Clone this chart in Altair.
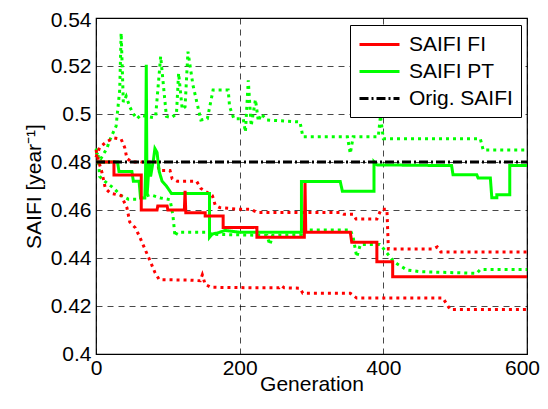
import altair as alt
import pandas as pd

# ---- data ----
fi_x = [0, 25, 25, 63, 63, 85, 86, 99, 100, 123, 124, 125, 152, 152, 177, 177, 224, 224, 290, 291, 292, 354, 356, 391, 391, 413, 413, 600]
fi_y = [0.480, 0.480, 0.4746, 0.4746, 0.460, 0.460, 0.4617, 0.4617, 0.460, 0.460, 0.468, 0.4589, 0.4589, 0.4575, 0.4575, 0.4527, 0.4527, 0.4486, 0.4486, 0.4712, 0.4507, 0.4507, 0.4466, 0.4466, 0.4384, 0.4384, 0.4322, 0.4322]

pt_x = [0, 30, 32, 50, 52, 60, 62, 68, 69, 70, 71, 72, 74, 76, 80, 82, 85, 88, 92, 98, 105, 158, 158, 162, 170, 180, 200, 286, 286, 340, 343, 387, 387, 391, 495, 497, 530, 532, 549, 551, 558, 558, 576, 576, 600]
pt_y = [0.480, 0.480, 0.476, 0.476, 0.472, 0.472, 0.465, 0.465, 0.476, 0.5205, 0.466, 0.470, 0.480, 0.474, 0.481, 0.4856, 0.484, 0.476, 0.472, 0.470, 0.4669, 0.4669, 0.4486, 0.450, 0.4505, 0.4515, 0.4507, 0.4507, 0.4719, 0.4719, 0.4678, 0.4678, 0.4801, 0.4788, 0.4785, 0.4747, 0.4747, 0.4733, 0.4733, 0.4651, 0.4651, 0.4664, 0.4664, 0.4785, 0.4785]

fi_hi_x = [0, 5, 15, 25, 35, 40, 43, 50, 85, 88, 103, 106, 113, 140, 146, 162, 166, 172, 200, 215, 225, 340, 345, 358, 362, 391, 397, 405, 407, 470, 475, 480, 600]
fi_hi_y = [0.482, 0.486, 0.4885, 0.490, 0.4895, 0.486, 0.4815, 0.480, 0.480, 0.4765, 0.4765, 0.473, 0.472, 0.472, 0.469, 0.466, 0.462, 0.461, 0.4603, 0.4603, 0.459, 0.459, 0.4582, 0.4582, 0.4562, 0.4562, 0.4603, 0.4603, 0.4438, 0.4438, 0.4446, 0.4425, 0.4425]

fi_lo_x = [0, 4, 8, 13, 20, 35, 43, 47, 55, 62, 67, 75, 82, 88, 130, 145, 148, 152, 160, 220, 255, 258, 262, 284, 288, 354, 363, 483, 493, 600]
fi_lo_y = [0.485, 0.480, 0.476, 0.469, 0.467, 0.466, 0.461, 0.455, 0.4525, 0.448, 0.4445, 0.439, 0.434, 0.431, 0.4308, 0.4305, 0.433, 0.429, 0.4278, 0.4276, 0.4276, 0.4285, 0.4276, 0.4274, 0.4253, 0.4253, 0.4233, 0.4233, 0.4185, 0.4185]

pt_hi_x = [0, 7, 15, 20, 28, 33, 35, 37, 38, 42, 47, 52, 57, 62, 70, 80, 83, 90, 98, 105, 112, 115, 120, 124, 128, 135, 146, 155, 163, 184, 186, 192, 205, 208, 212, 216, 222, 226, 230, 238, 284, 288, 350, 354, 358, 393, 396, 400, 535, 539, 600]
pt_hi_y = [0.484, 0.4815, 0.4856, 0.4897, 0.495, 0.510, 0.5337, 0.515, 0.505, 0.5074, 0.503, 0.500, 0.498, 0.4995, 0.499, 0.4985, 0.499, 0.524, 0.499, 0.4985, 0.500, 0.517, 0.502, 0.503, 0.526, 0.512, 0.4975, 0.498, 0.510, 0.510, 0.503, 0.498, 0.498, 0.4925, 0.514, 0.495, 0.506, 0.497, 0.500, 0.4975, 0.4967, 0.4905, 0.4905, 0.4835, 0.4905, 0.4905, 0.4993, 0.4897, 0.4897, 0.485, 0.485]

pt_lo_x = [0, 3, 5, 12, 25, 35, 45, 57, 75, 90, 103, 107, 110, 113, 158, 160, 238, 242, 246, 286, 288, 354, 358, 363, 368, 395, 400, 413, 419, 433, 451, 530, 535, 600]
pt_lo_y = [0.4856, 0.483, 0.474, 0.472, 0.469, 0.466, 0.4645, 0.4645, 0.4664, 0.465, 0.4643, 0.458, 0.449, 0.4507, 0.4507, 0.4499, 0.4494, 0.4455, 0.4494, 0.4497, 0.4517, 0.4517, 0.4486, 0.4404, 0.4456, 0.4456, 0.444, 0.439, 0.4376, 0.435, 0.4343, 0.4336, 0.4352, 0.4352]

orig_x = [0, 600]
orig_y = [0.48, 0.48]

series_names = ["SAIFI FI", "SAIFI PT", "Orig. SAIFI"]
series_colors = ["#ff0000", "#00ff00", "#000000"]
x_ticks = [0, 200, 400, 600]
y_ticks = [0.4, 0.42, 0.44, 0.46, 0.48, 0.5, 0.52, 0.54]


def frame(name, xs, ys, bound=""):
    return pd.DataFrame({"series": name, "bound": bound, "order": range(len(xs)), "gen": xs, "saifi": ys})


main_df = pd.concat([frame("SAIFI PT", pt_x, pt_y), frame("SAIFI FI", fi_x, fi_y), frame("Orig. SAIFI", orig_x, orig_y)])
red_dot_df = pd.concat([frame("SAIFI FI", fi_hi_x, fi_hi_y, "hi"), frame("SAIFI FI", fi_lo_x, fi_lo_y, "lo")])
green_dot_df = pd.concat([frame("SAIFI PT", pt_hi_x, pt_hi_y, "hi"), frame("SAIFI PT", pt_lo_x, pt_lo_y, "lo")])

FONT = "Liberation Sans"

x_enc = alt.X("gen:Q", scale=alt.Scale(domain=[0, 600], nice=False),
              axis=alt.Axis(values=x_ticks, title="Generation", format="d",
                            labelOffset={"condition": {"test": "datum.value == 600", "value": -5}, "value": 0},
                            titleY=36, titleBaseline="alphabetic", labelPadding=3))
y_enc = alt.Y("saifi:Q", scale=alt.Scale(domain=[0.4, 0.54], nice=False, zero=False),
              axis=alt.Axis(values=y_ticks, title="SAIFI [year⁻¹]", format="~g",
                            labelOffset={"condition": {"test": "datum.value > 0.535", "value": 2}, "value": 0}))

green_dots = alt.Chart(green_dot_df).mark_line(color="#00ff00", strokeWidth=3, strokeDash=[3, 4]).encode(
    x=x_enc, y=y_enc, detail="bound:N", order="order:Q")
red_dots = alt.Chart(red_dot_df).mark_line(color="#ff0000", strokeWidth=3, strokeDash=[3, 4]).encode(
    x=x_enc, y=y_enc, detail="bound:N", order="order:Q")

main = alt.Chart(main_df).mark_line(strokeWidth=3).encode(
    x=x_enc, y=y_enc,
    color=alt.Color("series:N", sort=series_names,
                    scale=alt.Scale(domain=series_names, range=series_colors), title=None),
    strokeDash=alt.StrokeDash("series:N", sort=series_names,
                              scale=alt.Scale(domain=series_names, range=[[1, 0], [1, 0], [9, 3, 2, 3]]), title=None),
    order="order:Q",
)

chart = alt.layer(green_dots, red_dots, main).properties(
    width=431, height=336,
    autosize=alt.AutoSizeParams(type="none"),
    padding={"left": 88, "top": 10, "right": 13, "bottom": 41},
).configure_view(stroke="black", strokeWidth=1.2).configure_axis(
    labelFont=FONT, labelFontSize=21, labelColor="black",
    titleFont=FONT, titleFontSize=21, titleFontWeight="normal", titleColor="black",
    grid=True, gridColor="black", gridDash=[6, 5], gridWidth=0.8, gridOpacity=0.9,
    domain=False, ticks=False, labelPadding=5,
).configure_axisY(titlePadding=6, labelFlush=False).configure_axisX(labelFlush=False).configure_legend(
    orient="none", legendX=254, legendY=7,
    fillColor="white", strokeColor="black", padding=8, cornerRadius=0,
    symbolType="M-2,0H2", symbolSize=400, symbolStrokeWidth=3, symbolOffset=10,
    labelFont=FONT, labelFontSize=21, labelColor="black", labelOffset=18, rowPadding=5,
)

chart.save("out.html", embed_options={"renderer": "svg", "actions": False})
